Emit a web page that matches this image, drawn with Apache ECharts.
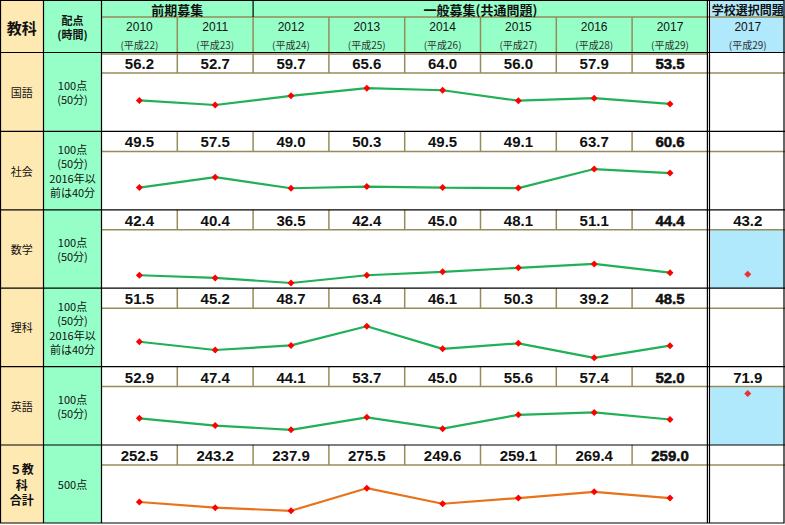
<!DOCTYPE html>
<html><head><meta charset="utf-8">
<script src="https://cdn.jsdelivr.net/npm/echarts@6/dist/echarts.min.js"></script>
<style>html,body{margin:0;padding:0;background:#fff}#c{width:785px;height:525px}</style>
</head><body><div id="c"></div>
<script>
// ---- data ----
const years = ['2010','2011','2012','2013','2014','2015','2016','2017'];
const heisei = ['(平成22)','(平成23)','(平成24)','(平成25)','(平成26)','(平成27)','(平成28)','(平成29)'];
const subjects = ['国語','社会','数学','理科','英語','５教\n科\n合計'];
const haiten = ['100点\n(50分)','100点\n(50分)\n2016年以\n前は40分','100点\n(50分)','100点\n(50分)\n2016年以\n前は40分','100点\n(50分)','500点'];
const kokugo = [56.2,52.7,59.7,65.6,64.0,56.0,57.9,53.5];
const shakai = [49.5,57.5,49.0,50.3,49.5,49.1,63.7,60.6];
const sugaku = [42.4,40.4,36.5,42.4,45.0,48.1,51.1,44.4];
const rika   = [51.5,45.2,48.7,63.4,46.1,50.3,39.2,48.5];
const eigo   = [52.9,47.4,44.1,53.7,45.0,55.6,57.4,52.0];
const total  = [252.5,243.2,237.9,275.5,249.6,259.1,269.4,259.0];
const schoolYear = ['2017'];
const schoolHeisei = '(平成29)';
const schoolValues = [null,null,43.2,null,71.9,null];

// ---- layout ----
const W = 785, H = 523;
const c1 = 43.5, c2 = 101.5, colW = 75.8, yearEnd = c2 + 8*colW, sL = 710.5;
const hdr1 = 17, hdrB = 53, rowH = 78.4, valH = 20;
const rows = [kokugo, shakai, sugaku, rika, eigo, total];
const OLIVE = '#968C5A', BEIGE = '#FFE9B3', GREEN = '#96FFC8', BLUE = '#B0E8FC';
const CJK = '"Noto Sans CJK JP","Noto Sans",sans-serif';
const NUM = '"Liberation Sans",Arial,"Noto Sans CJK JP",sans-serif';

const g = [];
function rect(x,y,w,h,fill){g.push({type:'rect',z:0,shape:{x,y,width:w,height:h},style:{fill}});}
function line(x1,y1,x2,y2,stroke,lw){g.push({type:'line',z:1,shape:{x1,y1,x2,y2},style:{stroke,lineWidth:lw||1}});}
function text(t,x,y,font,opts){
  const st = Object.assign({text:t,x,y,font,fill:'#111',align:'center',verticalAlign:'middle',textAlign:'center',textVerticalAlign:'middle'},opts||{});
  g.push({type:'text',z:3,style:st});
}
// backgrounds
rect(0,0,c1,H,BEIGE);
rect(c1,0,c2-c1,H,GREEN);
rect(c2,0,yearEnd-c2,hdrB,GREEN);
rect(sL,0,W-sL,hdrB,BLUE);
[2,4].forEach(i=>{const t=hdrB+i*rowH+valH; rect(sL,t,W-sL,rowH-valH,BLUE);});

// header texts
text('教科',c1/2,27,'bold 15px '+CJK);
text('配点',(c1+c2)/2,19.5,'bold 11px '+CJK);
text('(時間)',(c1+c2)/2,34,'bold 11px '+CJK);
text('前期募集',c2+colW,9,'bold 13px '+CJK);
text('一般募集(共通問題)',(c2+2*colW+yearEnd)/2,9,'bold 13px '+CJK);
text('学校選択問題',(sL+W)/2,9,'bold 12px '+CJK);
years.forEach((y,i)=>{
  const cx = c2+(i+0.5)*colW;
  text(y,cx,27,'12px '+NUM);
  text(heisei[i],cx,44,'10px '+CJK,{fill:'#333'});
});
text(schoolYear[0],(sL+W)/2,27,'12px '+NUM);
text(schoolHeisei,(sL+W)/2,44,'10px '+CJK,{fill:'#333'});

// rows
rows.forEach((vals,r)=>{
  const top = hdrB + r*rowH;
  const mid = top + rowH/2;
  if(r===5){
    subjects[r].split('\n').forEach((s,k)=>text(s,c1/2,mid-15.7+k*15.7,'bold 12px '+CJK));
  } else {
    text(subjects[r],c1/2,mid,'11px '+CJK);
  }
  const hl = haiten[r].split('\n');
  hl.forEach((s,k)=>text(s,(c1+c2)/2,mid+(k-(hl.length-1)/2)*14.5,'11px '+CJK));
  vals.forEach((v,i)=>{
    const last = i===vals.length-1;
    text(v.toFixed(1),c2+(i+0.5)*colW,top+valH/2+0.5,'bold 15px '+NUM,last?{stroke:'#111',lineWidth:0.5}:{});
    if(i>0) line(c2+i*colW,top,c2+i*colW,top+valH,OLIVE,1.5);
  });
  if(schoolValues[r]!==null) text(schoolValues[r].toFixed(1),(sL+W)/2,top+valH/2+0.5,'bold 15px '+NUM);
  line(c2,top+valH,W,top+valH,OLIVE,1.5);
  if(r>0) line(0,top,W,top,'#000',1.2);
});
// header lines
line(c2,hdr1,W,hdr1,OLIVE,1.5);
for(let i=1;i<8;i++) line(c2+i*colW,hdr1,c2+i*colW,hdrB,OLIVE,1.5);
line(c2+2*colW,0,c2+2*colW,hdr1,'#000',1.2);
line(0,hdrB-0.5,W,hdrB-0.5,'#000',1);
line(c2,hdrB+1,yearEnd,hdrB+1,OLIVE,1.5);
// verticals
line(c1,0,c1,H,'#000',1.2);
line(c2,0,c2,H,'#000',1.2);
line(yearEnd-0.5,0,yearEnd-0.5,H,'#000',1.2);
line(sL-1,0,sL-1,H,'#000',1.2);
// outer border
g.push({type:'rect',z:4,shape:{x:0.5,y:0.5,width:W-1.5,height:H-0.5},style:{fill:'none',stroke:'#000',lineWidth:1.2}});

// grids / series
const grid=[], xAxis=[], yAxis=[], series=[];
rows.forEach((vals,r)=>{
  const top = hdrB + r*rowH + valH;
  const isTotal = r===5;
  grid.push({left:c2,top:top,width:8*colW,height:rowH-valH});
  xAxis.push({type:'category',gridIndex:r,data:years,boundaryGap:true,show:false});
  yAxis.push({type:'value',gridIndex:r,min:isTotal?217:32.5,max:isTotal?314:77.2,show:false});
  series.push({type:'line',xAxisIndex:r,yAxisIndex:r,data:vals,symbol:'diamond',symbolSize:7,
    lineStyle:{color:isTotal?'#E8731A':'#20B058',width:2.2},itemStyle:{color:'#FF0000'},z:5});
});
schoolValues.forEach((v,r)=>{
  if(v===null) return;
  const idx = grid.length;
  const top = hdrB + r*rowH + valH;
  grid.push({left:sL,top:top,width:W-sL,height:rowH-valH});
  xAxis.push({type:'category',gridIndex:idx,data:schoolYear,boundaryGap:true,show:false});
  yAxis.push({type:'value',gridIndex:idx,min:32.5,max:77.2,show:false});
  series.push({type:'scatter',xAxisIndex:idx,yAxisIndex:idx,data:[v],symbol:'diamond',symbolSize:7,itemStyle:{color:'#FF0000'},z:5});
});

const chart = echarts.init(document.getElementById('c'),null,{renderer:'svg'});
chart.setOption({animation:false,backgroundColor:'#fff',grid,xAxis,yAxis,series,graphic:g});
</script></body></html>
